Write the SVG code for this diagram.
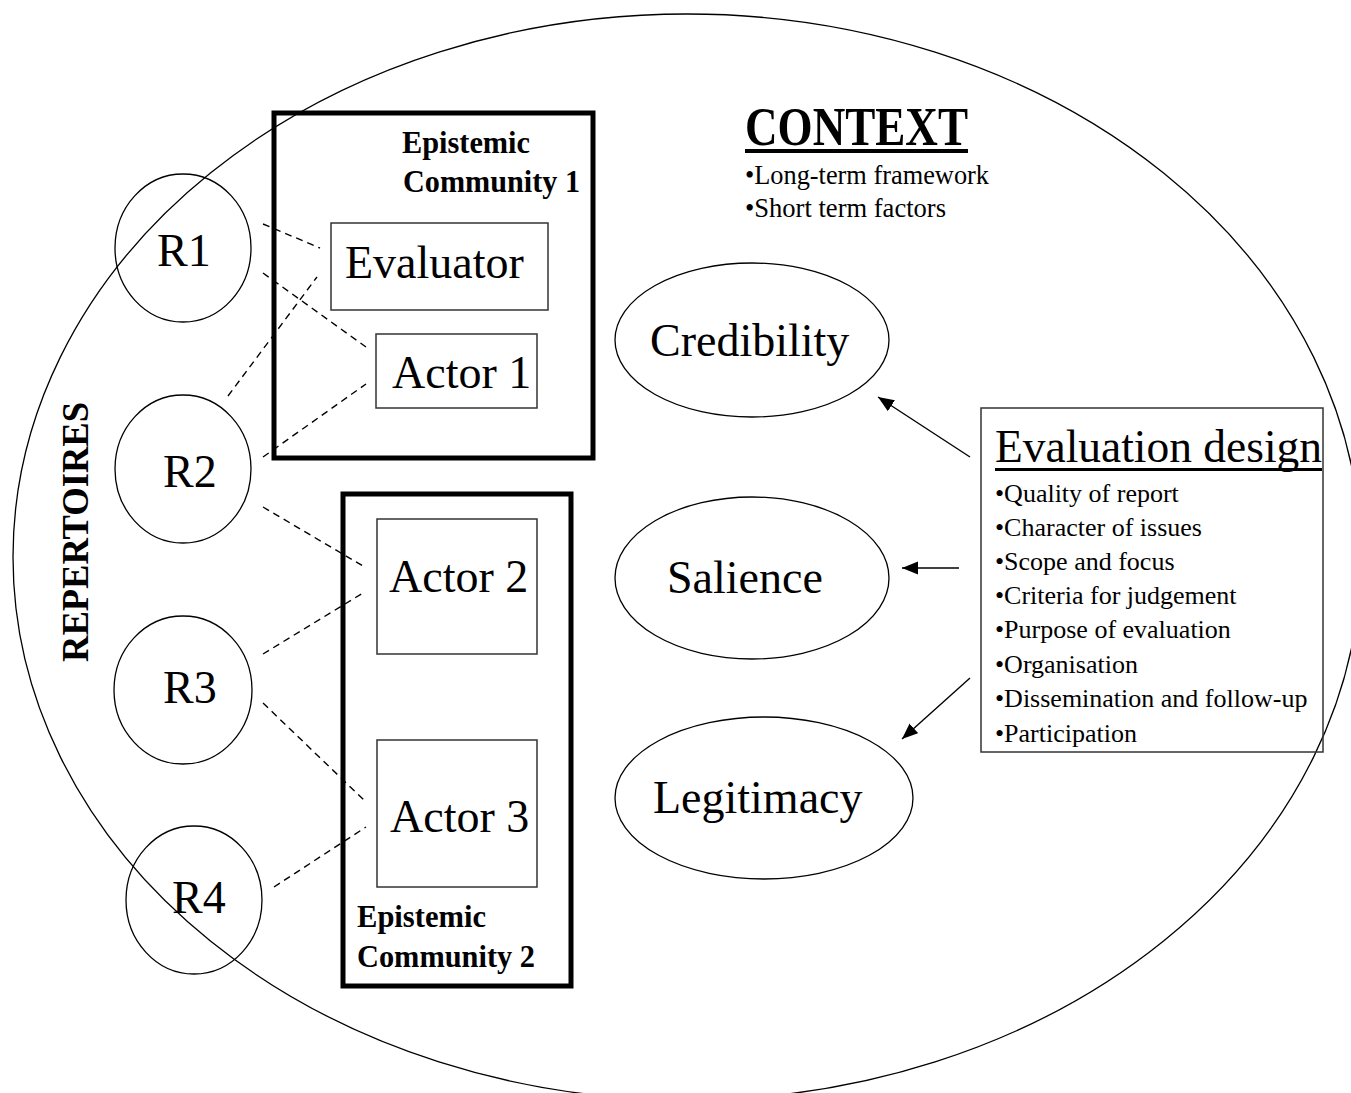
<svg xmlns="http://www.w3.org/2000/svg" width="1351" height="1093" viewBox="0 0 1351 1093">
  <defs>
    <marker id="arrowhead" markerUnits="userSpaceOnUse" markerWidth="18" markerHeight="14" refX="16" refY="6.5" orient="auto">
      <path d="M0,0 L16,6.5 L0,13 z" fill="#000"/>
    </marker>
    <style>
      text { font-family: "Liberation Serif", "Times New Roman", serif; fill: #000; }
      .big { font-size: 46px; }
      .bold { font-weight: bold; }
      .ec { font-size: 31px; font-weight: bold; }
      .item { font-size: 26px; }
      .thin { fill: none; stroke: #000; stroke-width: 1.3; }
      .box { fill: none; stroke: #333; stroke-width: 1.5; }
      .community { fill: none; stroke: #000; stroke-width: 5; }
      .dash { fill: none; stroke: #000; stroke-width: 1.4; stroke-dasharray: 7 5; }
      .arrow { fill: none; stroke: #000; stroke-width: 1.4; marker-end: url(#arrowhead); }
    </style>
  </defs>
  <rect width="1351" height="1093" fill="#fff"/>

  <!-- context boundary -->
  <g id="context">
    <ellipse class="thin" cx="687" cy="557" rx="674" ry="543"/>
    <text x="745" y="145" class="bold" font-size="54" textLength="223" lengthAdjust="spacingAndGlyphs">CONTEXT</text>
    <rect x="745" y="149" width="223" height="4" fill="#000"/>
    <text x="745" y="184" font-size="28" textLength="244" lengthAdjust="spacingAndGlyphs">•Long-term framework</text>
    <text x="745" y="217" font-size="28" textLength="201" lengthAdjust="spacingAndGlyphs">•Short term factors</text>
  </g>

  <g id="repertoires-label">
    <text transform="translate(88,532) rotate(-90)" text-anchor="middle" class="bold" font-size="38" textLength="260" lengthAdjust="spacingAndGlyphs">REPERTOIRES</text>
  </g>

  <!-- repertoires -->
  <g id="r1">
    <ellipse class="thin" cx="183" cy="248" rx="68" ry="74"/>
    <text x="157" y="266" class="big">R1</text>
  </g>
  <g id="r2">
    <ellipse class="thin" cx="183" cy="469" rx="68" ry="74"/>
    <text x="163" y="487" class="big">R2</text>
  </g>
  <g id="r3">
    <ellipse class="thin" cx="183" cy="690" rx="69" ry="74"/>
    <text x="163" y="703" class="big">R3</text>
  </g>
  <g id="r4">
    <ellipse class="thin" cx="194" cy="900" rx="68" ry="74"/>
    <text x="172" y="913" class="big">R4</text>
  </g>

  <!-- epistemic communities -->
  <g id="community-1">
    <rect class="community" x="274" y="113" width="319" height="345"/>
    <text x="402" y="153" class="ec" textLength="128" lengthAdjust="spacingAndGlyphs">Epistemic</text>
    <text x="403" y="192" class="ec" textLength="177" lengthAdjust="spacingAndGlyphs">Community 1</text>
  </g>
  <g id="evaluator">
    <rect class="box" x="331" y="223" width="217" height="87"/>
    <text x="345" y="278" class="big">Evaluator</text>
  </g>
  <g id="actor-1">
    <rect class="box" x="376" y="334" width="161" height="74"/>
    <text x="392" y="388" class="big">Actor 1</text>
  </g>

  <g id="community-2">
    <rect class="community" x="343" y="494" width="228" height="492"/>
    <text x="357" y="927" class="ec" textLength="129" lengthAdjust="spacingAndGlyphs">Epistemic</text>
    <text x="357" y="967" class="ec" textLength="178" lengthAdjust="spacingAndGlyphs">Community 2</text>
  </g>
  <g id="actor-2">
    <rect class="box" x="377" y="519" width="160" height="135"/>
    <text x="389" y="592" class="big">Actor 2</text>
  </g>
  <g id="actor-3">
    <rect class="box" x="377" y="740" width="160" height="147"/>
    <text x="390" y="832" class="big">Actor 3</text>
  </g>

  <!-- outcomes -->
  <g id="credibility">
    <ellipse class="thin" cx="752" cy="340" rx="137" ry="77"/>
    <text x="650" y="356" class="big">Credibility</text>
  </g>
  <g id="salience">
    <ellipse class="thin" cx="752" cy="578" rx="137" ry="81"/>
    <text x="667" y="593" class="big">Salience</text>
  </g>
  <g id="legitimacy">
    <ellipse class="thin" cx="764" cy="798" rx="149" ry="81"/>
    <text x="653" y="813" class="big">Legitimacy</text>
  </g>

  <!-- evaluation design -->
  <g id="evaluation-design">
    <rect class="box" x="981" y="408" width="342" height="344"/>
    <text x="995" y="462" class="big" textLength="327" lengthAdjust="spacingAndGlyphs">Evaluation design</text>
    <rect x="995" y="468" width="327" height="3" fill="#000"/>
    <text x="995" y="502" class="item">•Quality of report</text>
    <text x="995" y="536" class="item">•Character of issues</text>
    <text x="995" y="570" class="item">•Scope and focus</text>
    <text x="995" y="604" class="item">•Criteria for judgement</text>
    <text x="995" y="638" class="item">•Purpose of evaluation</text>
    <text x="995" y="673" class="item">•Organisation</text>
    <text x="995" y="707" class="item">•Dissemination and follow-up</text>
    <text x="995" y="742" class="item">•Participation</text>
  </g>

  <!-- connectors -->
  <g id="connectors">
    <line class="dash" x1="263" y1="224" x2="320" y2="248"/>
    <line class="dash" x1="263" y1="273" x2="366" y2="347"/>
    <line class="dash" x1="228" y1="396" x2="317" y2="277"/>
    <line class="dash" x1="263" y1="457" x2="366" y2="384"/>
    <line class="dash" x1="263" y1="507" x2="363" y2="566"/>
    <line class="dash" x1="263" y1="654" x2="363" y2="593"/>
    <line class="dash" x1="263" y1="703" x2="366" y2="802"/>
    <line class="dash" x1="274" y1="887" x2="366" y2="827"/>
    <line class="arrow" x1="970" y1="457" x2="878" y2="397"/>
    <line class="arrow" x1="959" y1="568" x2="902" y2="568"/>
    <line class="arrow" x1="970" y1="678" x2="902" y2="739"/>
  </g>
</svg>
